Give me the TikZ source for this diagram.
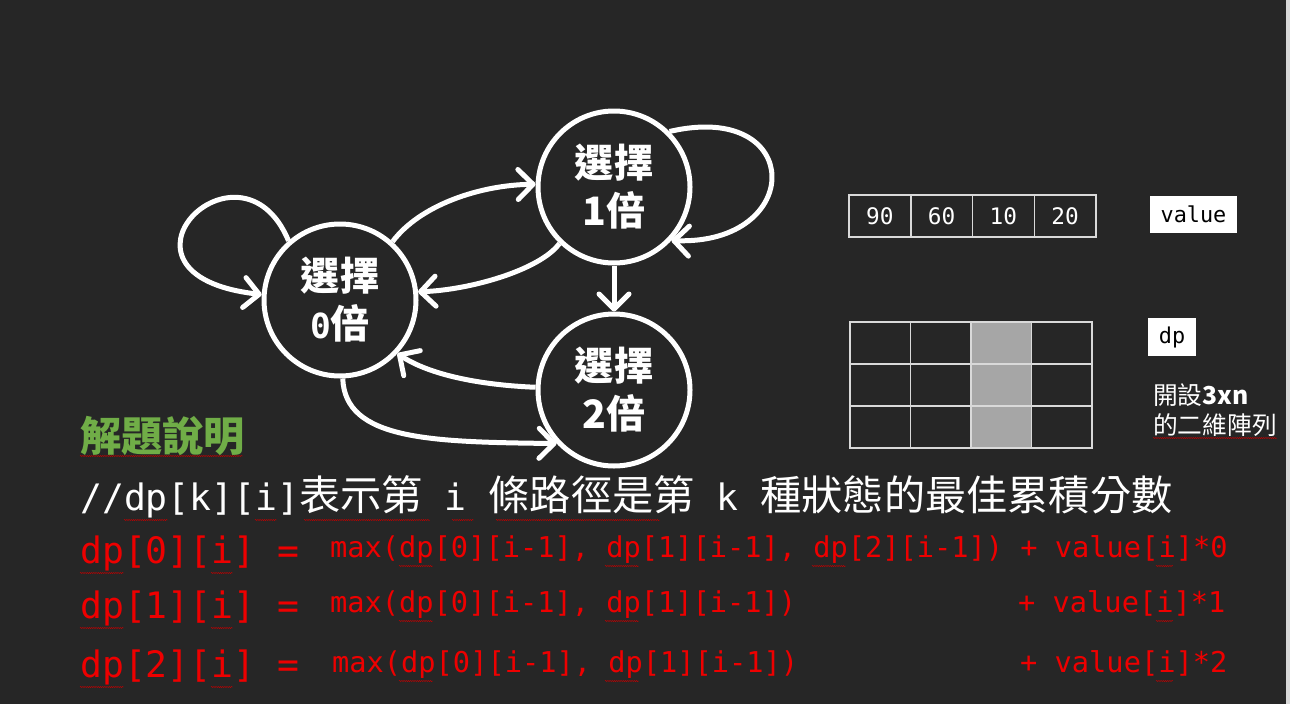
\documentclass[tikz,border=0pt]{standalone}
\usepackage{fontspec}
\setmonofont{DejaVu Sans Mono}[Scale=0.91]
\newfontfamily\cjk{Noto Sans CJK TC}[Scale=1.03]
\usetikzlibrary{arrows.meta,decorations.pathmorphing}
\definecolor{bgdark}{HTML}{262626}
\definecolor{titlegreen}{HTML}{70AD47}
\definecolor{codered}{HTML}{EE0000}
\definecolor{cellgray}{HTML}{A6A6A6}
\definecolor{gridline}{HTML}{D9D9D9}
\definecolor{squiggle}{HTML}{C00000}
\tikzset{
  state/.style={circle, draw=white, line width=5pt, minimum size=152pt, inner sep=0pt,
    text=white, align=center, font=\cjk\bfseries\fontsize{38}{48}\selectfont},
  trans/.style={draw=white, line width=5pt, -{Straight Barb[length=15pt,width=30pt,round]}},
  valcell/.style={draw=gridline, line width=1.5pt, minimum width=61.75pt, minimum height=42pt,
    inner sep=0pt, text=white, font=\ttfamily\fontsize{25}{28}\selectfont},
  dpcell/.style={draw=gridline, line width=1.5pt, minimum width=60.5pt, minimum height=42pt, inner sep=0pt},
  tag/.style={fill=white, text=black, inner sep=0pt, font=\ttfamily\fontsize{24}{28}\selectfont},
  line/.style={anchor=base west, inner sep=0pt},
  rhs/.style={line, text=codered, font=\ttfamily\fontsize{31.5}{36}\selectfont},
  typo/.style={draw=squiggle, line width=0.45pt, decorate, decoration={snake, amplitude=0.6pt, segment length=2.2pt}}
}
\begin{document}
\begin{tikzpicture}[x=1pt,y=-1pt]
	% Background
	\fill[bgdark] (0,0) rectangle (1290,704);
	\fill[gridline] (1286,0) rectangle (1290,704);
	\useasboundingbox (0,0) rectangle (1290,704);
	% States
	\node[state] (s0) at (340,300) {選擇\\{\ttfamily 0}倍};
	\node[state] (s1) at (614,187) {選擇\\1倍};
	\node[state] (s2) at (614,390) {選擇\\2倍};
	% Transitions
	\draw[trans] (s0.131) .. controls (240,125) and (90,275) .. (s0.176);
	\draw[trans] (s0.48) .. controls (420,205) and (480,185) .. (s1.178);
	\draw[trans] (s1.226) .. controls (540,270) and (470,290) .. (s0.6);
	\draw[trans] (s1.45) .. controls (805,100) and (805,245) .. (s1.317);
	\draw[trans] (s1) -- (s2);
	\draw[trans] (s2.178) .. controls (480,385) and (430,375) .. (s0.317);
	\draw[trans] (s0.272) .. controls (345,440) and (430,442) .. (s2.223);
	% Value array
	\foreach \v [count=\k from 0] in {90,60,10,20}
		\node[valcell] (val\k) at (879.9+61.75*\k,216) {\v};
	\node[tag, minimum width=87pt, minimum height=37pt] (valtag) at (1193.5,214.5) {value};
	% dp table
	\foreach \c/\f in {0/none,1/none,2/cellgray,3/none} \foreach \r in {0,1,2}
		\node[dpcell, fill=\f] (dp\r\c) at (880.25+60.5*\c,343+42*\r) {};
	\node[tag, minimum width=48pt, minimum height=38pt] (dptag) at (1172,337) {dp};
	\node[line, text=white, font=\cjk\fontsize{24}{28}\selectfont] (note1) at (1153,404) {開設{\bfseries 3xn}};
	\node[line, text=white, font=\cjk\fontsize{24}{28}\selectfont] (note2) at (1153,434) {的二維陣列};
	% Explanation
	\node[line, text=titlegreen, font=\cjk\bfseries\fontsize{40}{48}\selectfont] (title) at (80,451) {解題說明};
	\node[line, text=white, font=\ttfamily\fontsize{40}{48}\selectfont] (desc) at (80,510)
		{//dp[k][i]{\cjk 表示第} i {\cjk 條路徑是第} k {\cjk 種狀態的最佳累積分數}};
	\foreach \k/\y in {0/563,1/618,2/677}
		\node[line, text=codered, font=\ttfamily\fontsize{40}{48}\selectfont] (lhs\k) at (80,\y) {dp[\k][i] =};
	\node[rhs] (rhs0) at (330,557.5) {max(dp[0][i-1], dp[1][i-1], dp[2][i-1]) + value[i]*0};
	\node[rhs] (rhs1) at (330,612) {max(dp[0][i-1], dp[1][i-1])};
	\node[rhs] (add1) at (1018,612) {+ value[i]*1};
	\node[rhs] (rhs2) at (332,672) {max(dp[0][i-1], dp[1][i-1])};
	\node[rhs] (add2) at (1020,672) {+ value[i]*2};
	% Spell-check marks
	\draw[typo] (80,456) -- (243,456);
	\draw[typo] (1153,438) -- (1277,438);
	\foreach \a/\b in {124/168,255/277,304/430,452/474,496/660}
		\draw[typo] (\a,520) -- (\b,520);
	\foreach \y in {573,628,687} {
		\draw[typo] (80,\y) -- (124,\y);
		\draw[typo] (211,\y) -- (233,\y);}
	\foreach \y in {566,621,681}
		\foreach \a in {399,605}
			\draw[typo] (\a,\y) -- (\a+34,\y);
	\draw[typo] (812,566) -- (846,566);
	\foreach \y in {566,621,681}
		\draw[typo] (1156,\y) -- (1173,\y);
\end{tikzpicture}
\end{document}
